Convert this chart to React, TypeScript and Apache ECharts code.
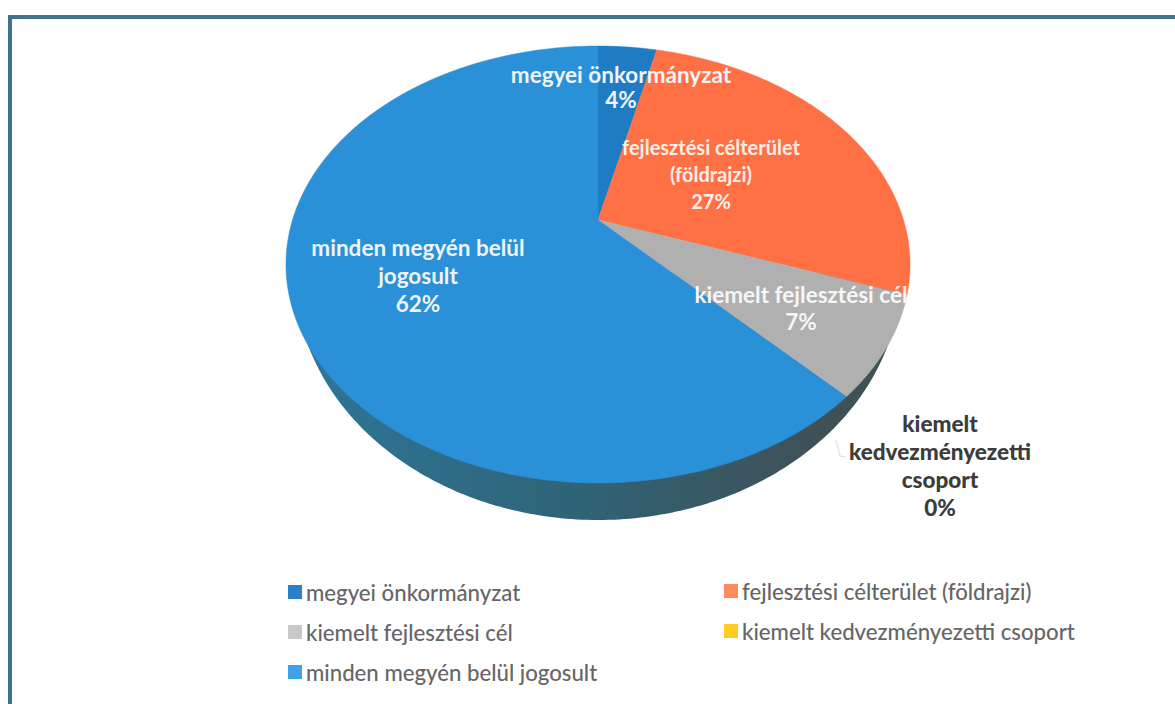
import React, { useEffect, useRef } from "react";
import * as echarts from "echarts";

const sliceNames = [
  "megyei önkormányzat",
  "fejlesztési célterület (földrajzi)",
  "kiemelt fejlesztési cél",
  "kiemelt kedvezményezetti csoport",
  "minden megyén belül jogosult",
];
const sliceValues = [3.7, 26.7, 7.4, 0, 62.2];
const sliceColors = ["#1f7cc2", "#ff7145", "#b0b0b0", "#ffc000", "#2a90d8"];
const legendColors = ["#2a80c6", "#ff8a60", "#c8c8c8", "#ffcc22", "#40a0e8"];
const labelLines = [
  ["megyei önkormányzat"],
  ["fejlesztési célterület", "(földrajzi)"],
  ["kiemelt fejlesztési cél"],
  ["kiemelt", "kedvezményezetti", "csoport"],
  ["minden megyén belül", "jogosult"],
];
const labelPlaces = [
  { x: 621, y: 87, lh: 25, size: 22.5, fill: "#eef4f8", weight: 700 },
  { x: 711, y: 174, lh: 27, size: 20, fill: "#fbeee6", weight: 700 },
  { x: 801, y: 308, lh: 27, size: 22.5, fill: "#f6f6f6", weight: 700 },
  { x: 940, y: 465, lh: 28, size: 22.5, fill: "#3c3c3c", weight: 900 },
  { x: 418, y: 275, lh: 28, size: 22.5, fill: "#eef4f8", weight: 700 },
];

const CX = 598, CY = 220, RX = 305.5, RY = 209.4, K = 0.2037;
const WALL = { cy: 273.5, a: 303, b: 246.5 };

// circle -> tilted-perspective disc; fraction 0 is at the top, clockwise
function rim(fraction: number): number[] {
  const t = fraction * 2 * Math.PI;
  const u = Math.sin(t), v = Math.cos(t);
  const d = 1 + K * v;
  return [CX + (RX * u) / d, CY - (RY * v) / d];
}

function sliceRender(index: number) {
  return () => {
    const total = sliceValues.reduce((a, b) => a + b, 0);
    const start = sliceValues.slice(0, index).reduce((a, b) => a + b, 0) / total;
    const end = start + sliceValues[index] / total;
    const n = Math.max(2, Math.ceil((end - start) * 360));
    const pts: number[][] = [[CX, CY]];
    for (let i = 0; i <= n; i++) pts.push(rim(start + ((end - start) * i) / n));
    return {
      type: "polygon",
      shape: { points: pts },
      style: { fill: sliceColors[index], stroke: sliceValues[index] > 0 ? sliceColors[index] : "none", lineWidth: 0.5 },
    };
  };
}

function wallRender() {
  const pts: number[][] = [];
  for (let i = 0; i <= 180; i++) {
    const t = (i / 180) * Math.PI;
    pts.push([CX + WALL.a * Math.cos(t), WALL.cy + WALL.b * Math.sin(t)]);
  }
  return {
    type: "polygon",
    shape: { points: pts },
    style: {
      fill: new echarts.graphic.LinearGradient(0, 0, 1, 0, [
        { offset: 0, color: "#2e7699" },
        { offset: 0.45, color: "#2f6478" },
        { offset: 0.85, color: "#3e5157" },
        { offset: 1, color: "#3e5157" },
      ]),
    },
  };
}

export default function App() {
  const ref = useRef<HTMLDivElement>(null);
  useEffect(() => {
    const chart = echarts.init(ref.current!, undefined, { renderer: "svg" });
    const legendText = {
      fontFamily: "Lato",
      fontSize: 22.2,
      color: "#666666",
      fontWeight: 500,
    };
    const labels = labelLines.map((lines, i) => ({
      type: "text",
      z: 100,
      style: {
        x: labelPlaces[i].x,
        y: labelPlaces[i].y,
        text: [...lines, `${Math.round(sliceValues[i])}%`].join("\n"),
        fill: labelPlaces[i].fill,
        font: `${labelPlaces[i].weight} ${labelPlaces[i].size}px Lato`,
        lineHeight: labelPlaces[i].lh,
        textAlign: "center",
        textVerticalAlign: "middle",
      },
    }));
    chart.setOption({
      animation: false,
      backgroundColor: "#ffffff",
      legend: [
        {
          orient: "vertical",
          left: 283,
          top: 576,
          itemWidth: 14,
          itemHeight: 14,
          itemGap: 18,
          icon: "rect",
          selectedMode: false,
          textStyle: { ...legendText, padding: [0, 0, 0, -1] },
          data: [sliceNames[0], sliceNames[2], sliceNames[4]],
        },
        {
          orient: "vertical",
          left: 719,
          top: 575,
          itemWidth: 14,
          itemHeight: 14,
          itemGap: 18,
          icon: "rect",
          selectedMode: false,
          textStyle: { ...legendText, padding: [0, 0, 0, -1] },
          data: [sliceNames[1], sliceNames[3]],
        },
      ],
      graphic: [
        {
          type: "polyline",
          z: 100,
          shape: { points: [[10, 704], [10, 17], [1175, 17]] },
          style: { stroke: "#40728c", lineWidth: 4, fill: "none" },
        },
        {
          type: "polyline",
          z: 100,
          shape: { points: [[836, 440], [840, 456], [846, 457]] },
          style: { stroke: "#dddddd", lineWidth: 1, fill: "none" },
        },
        ...labels,
      ],
      series: [
        {
          type: "custom",
          coordinateSystem: "none",
          silent: true,
          z: 1,
          renderItem: wallRender,
          data: [[1]],
        },
        ...sliceNames.map((name, i) => ({
          type: "custom",
          name,
          coordinateSystem: "none",
          silent: true,
          z: 2,
          itemStyle: { color: legendColors[i] },
          renderItem: sliceRender(i),
          data: [[sliceValues[i]]],
        })),
      ],
    });
    return () => chart.dispose();
  }, []);
  return (
    <div
      ref={ref}
      style={{ position: "fixed", left: 0, top: 0, width: 1175, height: 704 }}
    />
  );
}
